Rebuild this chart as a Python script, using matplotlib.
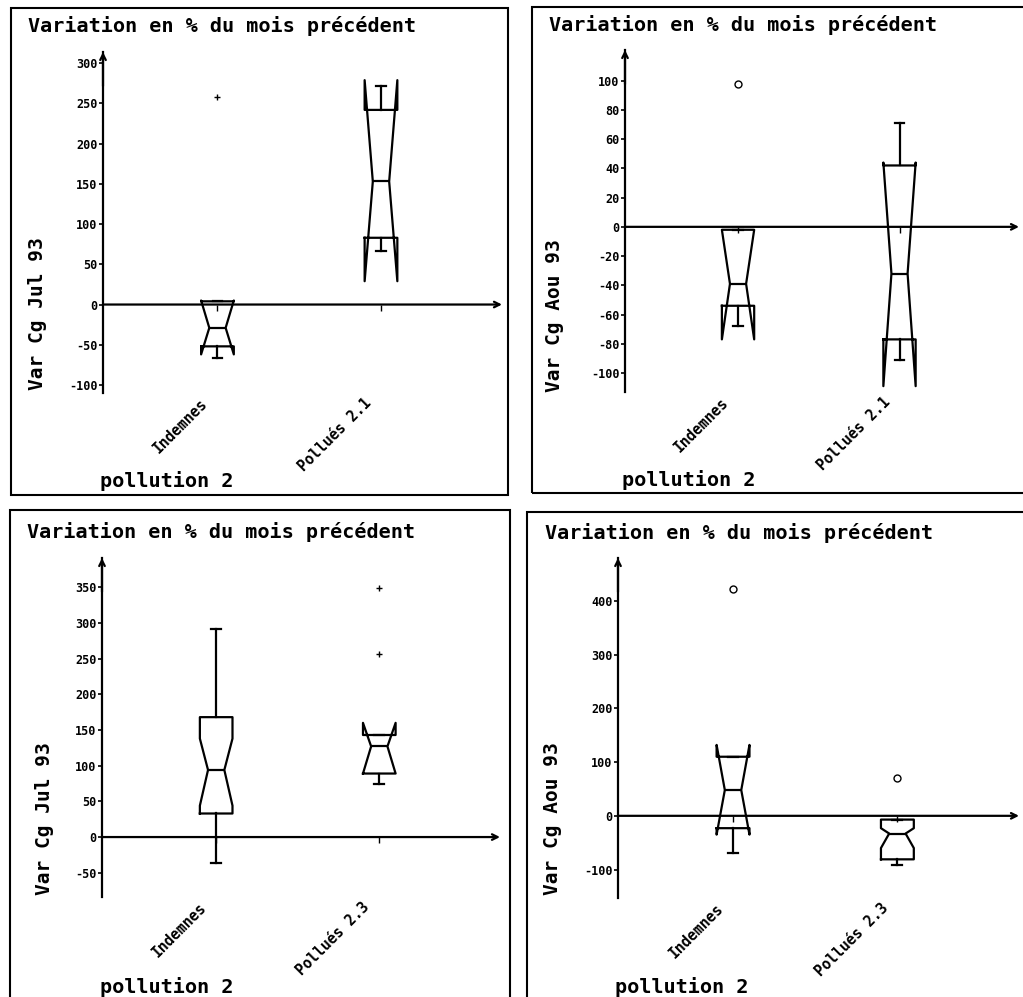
import matplotlib
matplotlib.use("Agg")
import matplotlib.pyplot as plt
from matplotlib.patches import Rectangle
from matplotlib.transforms import ScaledTranslation

W, H = 1023, 997

plt.rcParams["font.family"] = ["DejaVu Sans Mono"]
plt.rcParams["font.weight"] = "bold"
plt.rcParams["axes.unicode_minus"] = False

title = "Variation en % du mois précédent"
xtitle = "pollution 2"
ylabels = ["Var Cg Jul 93", "Var Cg Aou 93", "Var Cg Jul 93", "Var Cg Aou 93"]
categories = [["Indemnes", "Pollués 2.1"], ["Indemnes", "Pollués 2.1"],
              ["Indemnes", "Pollués 2.3"], ["Indemnes", "Pollués 2.3"]]

# box statistics, one pair (Indemnes, Pollués) per panel
medians = [[-29, 153], [-39, -32], [94, 127], [48, -33]]
q1s = [[-52, 83], [-54, -77], [33, 89], [-23, -81]]
q3s = [[4, 242], [-2, 42], [168, 143], [110, -7]]
ci_low = [[-62, 29], [-77, -109], [44, 89], [-35, -60]]
ci_high = [[5, 279], [-2, 44], [138, 160], [132, -23]]
whisk_low = [[-67, 67], [-68, -91], [-37, 75], [-70, -91]]
whisk_high = [[4, 272], [-2, 71], [292, 143], [110, -7]]
outliers = [[[258], []], [[98], []], [[], [256, 349]], [[422], [70]]]
outlier_marker = ["+", "o", "+", "o"]

ylims = [(-110, 314), (-113, 121), (-84, 391), (-153, 480)]
yticks = [range(-100, 301, 50), range(-100, 101, 20),
          range(-50, 351, 50), range(-100, 401, 100)]

# layout in pixels: axes (left, top, right, bottom), frame, text anchors
axes_px = [(103, 52, 502, 393), (625, 50, 1019, 392),
           (102, 558, 500, 897), (618, 558, 1019, 898)]
frames_px = [(11, 8, 508, 495), (532, 7, 1030, 493),
             (10, 510, 510, 1005), (527, 512, 1030, 1005)]
title_px = [(28, 26), (549, 25), (27, 532), (545, 533)]
ylabel_px = [(38, 390), (555, 392), (45, 895), (552, 895)]
xtitle_px = [(100, 481), (622, 480), (100, 987), (615, 987)]


def fx(x):
    return x / W


def fy(y):
    return 1 - y / H


fig = plt.figure(figsize=(W / 100, H / 100), dpi=100)
fig.patch.set_facecolor("white")

for i in range(4):
    l, t, r, b = axes_px[i]
    ax = fig.add_axes([fx(l), fy(b), fx(r) - fx(l), fy(t) - fy(b)])

    stats = []
    for j in range(2):
        stats.append(dict(med=medians[i][j], q1=q1s[i][j], q3=q3s[i][j],
                          cilo=ci_low[i][j], cihi=ci_high[i][j],
                          whislo=whisk_low[i][j], whishi=whisk_high[i][j],
                          fliers=outliers[i][j], label=categories[i][j]))
    line = dict(color="black", lw=1.6)
    ax.bxp(stats, positions=[1, 2], widths=0.2, shownotches=True, capwidths=0.06,
           boxprops=line, whiskerprops=line, capprops=line, medianprops=line,
           flierprops=dict(marker=outlier_marker[i], markeredgecolor="black",
                           markerfacecolor="none", markersize=5, linestyle="none"))

    ax.set_xlim(0.3, 2.74)
    ax.set_ylim(*ylims[i])
    ax.set_yticks(list(yticks[i]))
    for s in ["top", "right", "bottom"]:
        ax.spines[s].set_visible(False)
    ax.spines["left"].set_linewidth(1.6)
    ax.tick_params(axis="y", direction="out", length=3, width=1.2, labelsize=8.5, pad=1)
    ax.set_xticks([])

    # rotated category labels, hanging below the plot area
    offset = ScaledTranslation(-0.12, -0.08, fig.dpi_scale_trans)
    for pos, cat in zip([1, 2], categories[i]):
        ax.text(pos, 0, cat, transform=ax.get_xaxis_transform() + offset,
                rotation=45, ha="right", va="center", rotation_mode="anchor",
                fontsize=10.5)

    # axis arrows
    ax.annotate("", xy=(0, 1.0), xytext=(0, 0.9), xycoords="axes fraction",
                arrowprops=dict(arrowstyle="->", lw=1.6, shrinkA=0, shrinkB=0))
    ax.annotate("", xy=(1, 0), xytext=(0, 0), xycoords=("axes fraction", "data"),
                arrowprops=dict(arrowstyle="->", lw=1.6, shrinkA=0, shrinkB=0))
    ax.plot([1, 2], [0, 0], marker=3, linestyle="none", markersize=4, color="black")

    fl, ft, fr, fb = frames_px[i]
    fig.add_artist(Rectangle((fx(fl), fy(fb)), fx(fr) - fx(fl), fy(ft) - fy(fb),
                             transform=fig.transFigure, fill=False,
                             edgecolor="black", lw=1.5))

    fig.text(fx(title_px[i][0]), fy(title_px[i][1]), title,
             ha="left", va="center", fontsize=14.5)
    fig.text(fx(ylabel_px[i][0]), fy(ylabel_px[i][1]), ylabels[i],
             ha="center", va="bottom", rotation=90, fontsize=14)
    fig.text(fx(xtitle_px[i][0]), fy(xtitle_px[i][1]), xtitle,
             ha="left", va="center", fontsize=14.5)

fig.savefig("out.png", dpi=100)
